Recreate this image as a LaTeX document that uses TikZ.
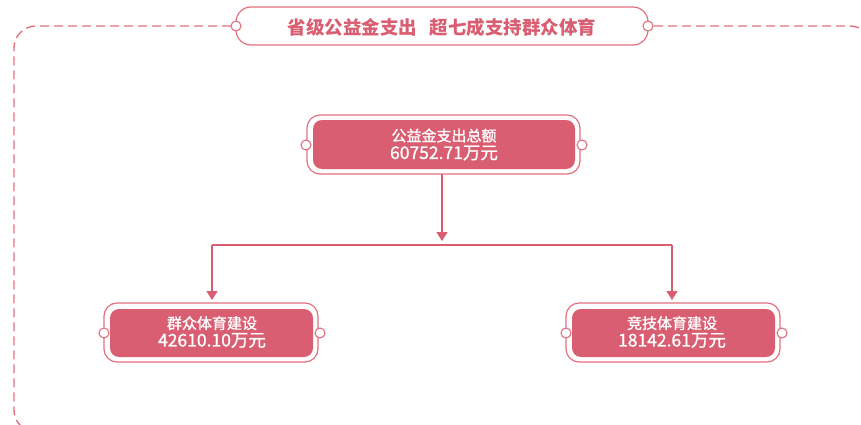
\documentclass[tikz,border=0pt]{standalone}
\usepackage{fontspec}
\setmainfont{Noto Sans CJK SC}
\newfontfamily\medfont[FakeBold=1.2]{Noto Sans CJK SC}
\usetikzlibrary{arrows.meta}
\definecolor{pk}{HTML}{D95E72}
\definecolor{pkl}{HTML}{E2707F}
\tikzset{
  x=1pt,y=-1pt,
  frame/.style={draw=pkl,line width=1.4pt,dash pattern=on 9pt off 5pt,rounded corners=22pt},
  outerbox/.style={draw=pkl,line width=1.2pt,fill=white,rounded corners=13pt},
  knob/.style={circle,draw=pkl,line width=1.1pt,fill=white,minimum size=10pt,inner sep=0pt},
  conn/.style={draw=pk,line width=1.5pt},
  arr/.style={conn,-{Triangle[length=9pt,width=11pt]}},
  ttl/.style={text=pk,font=\bfseries\fontsize{18.5}{22}\selectfont,inner sep=0pt},
  lbl/.style={text=white,align=center,inner sep=0pt,font=\medfont}
}
\begin{document}
\begin{tikzpicture}
\useasboundingbox (0,0) rectangle (861,425);
% frame
\coordinate (fl) at (231,26);
\coordinate (fr) at (653,26);
\draw[frame] (fl) -- (14,26) -- (14,432) -- (872,432) -- (872,26) -- (fr);
% title box
\draw[outerbox,rounded corners=15pt] (236,7) rectangle (648,45);
\node[knob] (tl) at (236,26) {};
\node[knob] (tr) at (648,26) {};
\node[ttl] (title) at (442,27) {省级公益金支出\hspace{13pt}超七成支持群众体育};
% top node
\draw[outerbox] (307,115) rectangle (580,174);
\fill[pk,rounded corners=9pt] (313,120) rectangle (575,169);
\node[knob] (t1) at (306,145) {};
\node[knob] (t2) at (582,145) {};
\node[lbl] (top) at (444,144.5) {{\fontsize{15}{15}\selectfont 公益金支出总额}\\[2pt]{\fontsize{17.5}{17.5}\selectfont 60752.71万元}};
\coordinate (tb) at (442,174);
% left node
\draw[outerbox] (104,303) rectangle (318,362);
\fill[pk,rounded corners=9pt] (110,309) rectangle (313,357);
\node[knob] (l1) at (104,333) {};
\node[knob] (l2) at (320,333) {};
\node[lbl] (left) at (212,332) {{\fontsize{15}{15}\selectfont 群众体育建设}\\[2pt]{\fontsize{17.5}{17.5}\selectfont 42610.10万元}};
% right node
\draw[outerbox] (566,303) rectangle (780,362);
\fill[pk,rounded corners=9pt] (572,309) rectangle (775,357);
\node[knob] (r1) at (566,333) {};
\node[knob] (r2) at (782,333) {};
\node[lbl] (right) at (672,332) {{\fontsize{15}{15}\selectfont 竞技体育建设}\\[2pt]{\fontsize{17.5}{17.5}\selectfont 18142.61万元}};
% connectors
\coordinate (split) at (442,245);
\coordinate (sl) at (212,245);
\coordinate (sr) at (672,245);
\coordinate (ltop) at (212,300);
\coordinate (rtop) at (672,300);
\draw[arr] (tb) -- (442,241);
\draw[conn] (sl) -- (sr);
\draw[arr] (sl) -- (ltop);
\draw[arr] (sr) -- (rtop);
\end{tikzpicture}
\end{document}
